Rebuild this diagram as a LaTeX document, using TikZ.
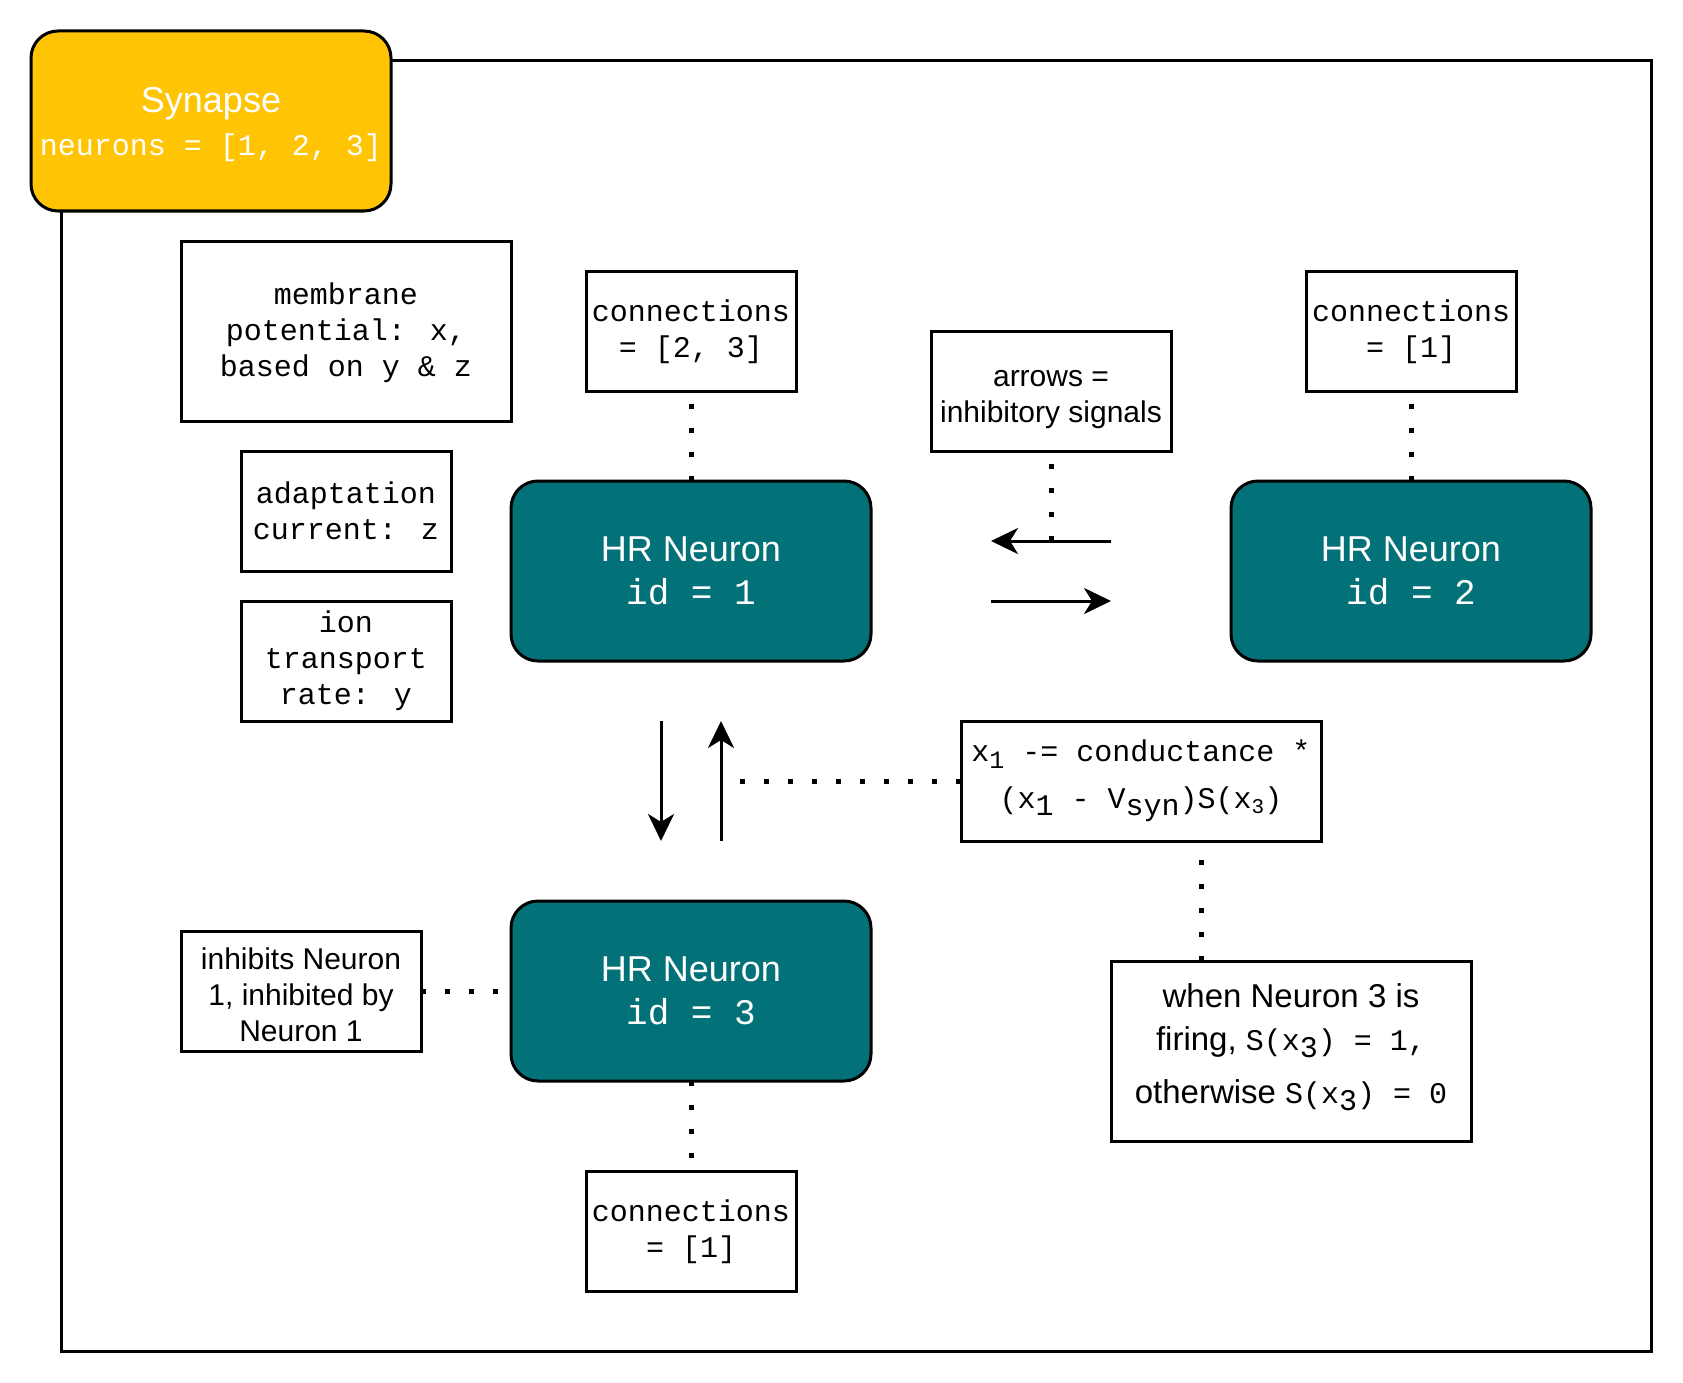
\documentclass[tikz,border=0pt]{standalone}
\usepackage{fontspec}
\setmainfont{Liberation Sans}
\newfontfamily\codefont{Liberation Mono}
\usetikzlibrary{arrows.meta}
\definecolor{neuronfill}{HTML}{037178}
\definecolor{synapsefill}{HTML}{FFC404}
% text shifted below the baseline, used for the index letters
\newcommand{\lowered}[2][8pt]{\raisebox{-#1}{#2}}
% invisible struts that set the height of a first line / depth of a last line
\newcommand{\tallstrut}[1]{\rule{0pt}{#1}}
\newcommand{\deepstrut}[1]{\rule[-#1]{0pt}{0pt}}

\begin{document}
\begin{tikzpicture}[x=1pt,y=-1pt,
  every node/.style={outer sep=0pt, inner sep=0pt},
  note/.style={draw, line width=3pt, fill=white, align=center,
    font=\codefont\fontsize{30}{36}\selectfont},
  notesans/.style={note, font=\fontsize{30}{36}\selectfont},
  smallbox/.style={minimum width=210pt, minimum height=120pt},
  neuron/.style={draw, line width=3pt, fill=neuronfill, rounded corners=27pt,
    minimum width=360pt, minimum height=180pt, text=white, align=center,
    font=\fontsize{36}{43}\selectfont},
  container/.style={draw, line width=3pt, minimum width=1590pt, minimum height=1290pt},
  dots/.style={line width=5pt, dash pattern=on 5pt off 19pt},
  signal/.style={line width=3pt, -{Stealth[length=27pt,width=26pt,inset=8pt]}}
]
\useasboundingbox (0,0) rectangle (1683,1383);

% outer container and its title tab
\node[container] (frame) at (856,706) {};
\node[draw, line width=3pt, fill=synapsefill, rounded corners=27pt,
  minimum width=360pt, minimum height=180pt, text=white, align=center,
  font=\fontsize{36}{43}\selectfont] (synapse) at (211,121)
  {\tallstrut{33pt}Synapse\\{\codefont\fontsize{30}{36}\selectfont neurons = [1, 2, 3]}};

% variable descriptions
\node[note, minimum width=330pt, minimum height=180pt] (membrane) at (346,331)
  {\tallstrut{25pt}membrane\\potential: x,\\based on y \& z};
\node[note, smallbox] (adapt) at (346,511) {adaptation\\current: z};
\node[note, smallbox] (ion) at (346,661) {ion\\transport\\rate: y};

% neurons
\node[neuron] (n1) at (691,571) {HR Neuron\\{\codefont id = 1}};
\node[neuron] (n2) at (1411,571) {HR Neuron\\{\codefont id = 2}};
\node[neuron] (n3) at (691,991) {HR Neuron\\{\codefont id = 3}};

% connection lists
\node[note, smallbox] (c1) at (691,331) {\tallstrut{23pt}connections\\= [2, 3]};
\node[note, smallbox] (c2) at (1411,331) {\tallstrut{23pt}connections\\= [1]};
\node[note, smallbox] (c3) at (691,1231) {\tallstrut{23pt}connections\\= [1]};

% legend and annotations
\node[notesans, minimum width=240pt, minimum height=120pt] (legend) at (1051,391)
  {\tallstrut{33pt}arrows =\\inhibitory signals};
\node[notesans, minimum width=240pt, minimum height=120pt] (inhib) at (301,991)
  {\tallstrut{28.5pt}inhibits Neuron\\1, inhibited by\\Neuron 1};
\node[note, minimum width=360pt, minimum height=120pt] (rule) at (1141,781)
  {x\lowered[7pt]{\fontsize{25}{25}\selectfont 1} -= conductance *\\[11pt]
   (x\lowered[7pt]{1} - V\lowered[7pt]{syn})S(x\lowered[5pt]{\fontsize{21}{21}\selectfont 3})};
\node[notesans, minimum width=360pt, minimum height=180pt,
  font=\fontsize{33}{43}\selectfont] (firing) at (1291,1051)
  {when Neuron 3 is\\
   firing, {\codefont\fontsize{30}{36}\selectfont S(x\lowered[7pt]{3}) = 1,}\\[10pt]
   otherwise {\codefont\fontsize{30}{36}\selectfont S(x\lowered[7pt]{3}) = 0}\deepstrut{14pt}};

% inhibitory signal arrows
\coordinate (ls) at (1111,541);
\coordinate (le) at (991,541);
\coordinate (rs) at (991,601);
\coordinate (re) at (1111,601);
\coordinate (ds) at (661,721);
\coordinate (de) at (661,841);
\coordinate (us) at (721,841);
\coordinate (ue) at (721,721);
\draw[signal] (ls) -- (le);
\draw[signal] (rs) -- (re);
\draw[signal] (ds) -- (de);
\draw[signal] (us) -- (ue);

% dotted annotation links
\coordinate (legendpin) at (1051,541);
\coordinate (rulepin) at (722.5,781);
\draw[dots] (n1.north) -- (c1.south);
\draw[dots] (n2.north) -- (c2.south);
\draw[dots] (n3.south) -- (c3.north);
\draw[dots] (legendpin) -- (legend.south);
\draw[dots] (rule.west) -- (rulepin);
\draw[dots] ([xshift=-90pt]firing.north) -- ([xshift=60pt]rule.south);
\draw[dots] (inhib.east) -- (n3.west);
\end{tikzpicture}
\end{document}
